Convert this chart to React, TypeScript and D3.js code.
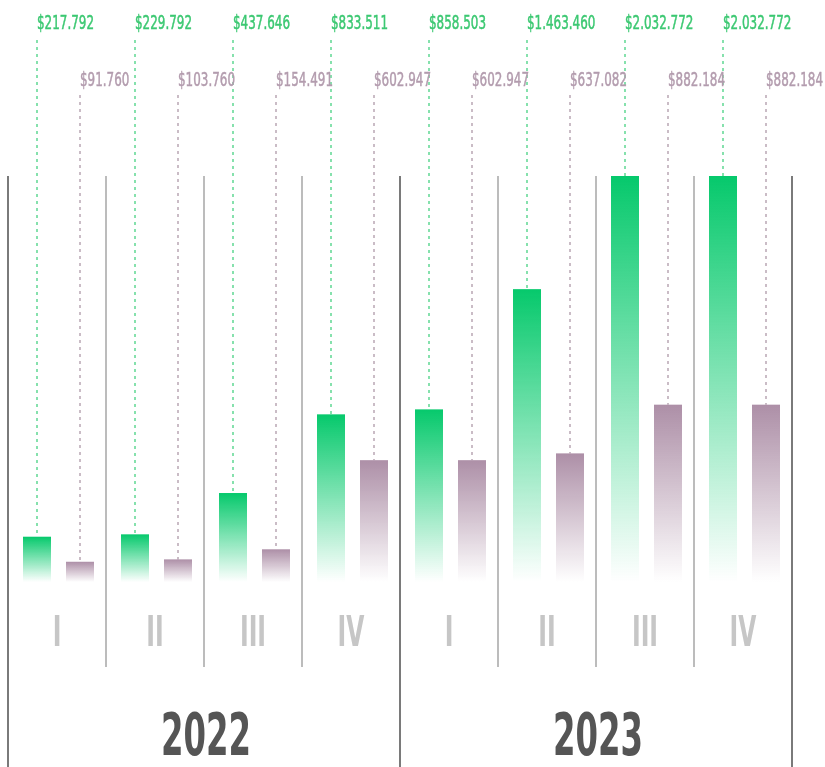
import { useEffect, useRef } from 'react';
import * as d3 from 'd3';

const YEARS = ['2022', '2023'];
const QUARTERS = ['I', 'II', 'III', 'IV'];
// revenue (green) and cost (purple) per quarter, 2022 Q1 .. 2023 Q4
const GREEN = [217792, 229792, 437646, 833511, 858503, 1463460, 2032772, 2032772];
const PURPLE = [91760, 103760, 154491, 602947, 602947, 637082, 882184, 882184];

const W = 825;
const H = 767;
const GREEN_C = '#06c96c';
const PURPLE_C = '#ad8fa7';
const FONT = "'DejaVu Sans Condensed', 'DejaVu Sans', sans-serif";

const fmt = (v: number) => '$' + d3.format(',')(v).replace(/,/g, '.');

export default function App() {
  const ref = useRef<SVGSVGElement>(null);

  useEffect(() => {
    const el = ref.current;
    if (!el) return;
    const svg = d3.select(el);
    svg.selectAll('*').remove();

    const idx = d3.range(GREEN.length);
    const x = d3.scaleBand<number>().domain(idx).range([8, 792]).padding(0);
    const bw = x.bandwidth();
    const y = d3.scaleLinear().domain([0, d3.max(GREEN) as number]).range([580, 176]);
    const barW = 28;
    const gOff = 29;
    const pOff = 72;

    const defs = svg.append('defs');
    const mk = (id: string, c: string) => {
      const g = defs.append('linearGradient').attr('id', id).attr('x1', 0).attr('x2', 0).attr('y1', 0).attr('y2', 1);
      g.append('stop').attr('offset', '0%').attr('stop-color', c).attr('stop-opacity', 1);
      g.append('stop').attr('offset', '100%').attr('stop-color', c).attr('stop-opacity', 0);
    };
    mk('gGrad', GREEN_C);
    mk('pGrad', PURPLE_C);

    // minor dividers between quarters
    idx.filter((i) => i % 4 !== 0).forEach((i) => {
      svg.append('line')
        .attr('x1', x(i)!).attr('x2', x(i)!)
        .attr('y1', 176).attr('y2', 667)
        .attr('stroke', '#bcbcbc').attr('stroke-width', 2);
    });
    // year dividers
    [x(0)!, x(4)!, x(7)! + bw].forEach((px) => {
      svg.append('line')
        .attr('x1', px).attr('x2', px)
        .attr('y1', 176).attr('y2', H)
        .attr('stroke', '#7a7a7a').attr('stroke-width', 2);
    });

    const baseY = y(0) + 2;

    // green bars + dotted leaders + labels
    GREEN.forEach((v, i) => {
      const cx = x(i)! + gOff;
      svg.append('line')
        .attr('x1', cx).attr('x2', cx).attr('y1', 40).attr('y2', y(v))
        .attr('stroke', '#5fd892').attr('stroke-width', 1.5).attr('stroke-dasharray', '3,4');
      svg.append('rect')
        .attr('x', cx - barW / 2).attr('y', y(v))
        .attr('width', barW).attr('height', baseY - y(v))
        .attr('fill', 'url(#gGrad)');
      svg.append('text')
        .attr('transform', `translate(${cx},29) scale(0.7,1)`)
        .attr('font-family', FONT).attr('font-size', 19).attr('fill', '#3cc872')
        .attr('stroke', '#3cc872').attr('stroke-width', 0.5)
        .text(fmt(v));
    });

    PURPLE.forEach((v, i) => {
      const cx = x(i)! + pOff;
      svg.append('line')
        .attr('x1', cx).attr('x2', cx).attr('y1', 95).attr('y2', y(v))
        .attr('stroke', '#b9a6b4').attr('stroke-width', 1.5).attr('stroke-dasharray', '3,4');
      svg.append('rect')
        .attr('x', cx - barW / 2).attr('y', y(v))
        .attr('width', barW).attr('height', baseY - y(v))
        .attr('fill', 'url(#pGrad)');
      svg.append('text')
        .attr('transform', `translate(${cx},86) scale(0.7,1)`)
        .attr('font-family', FONT).attr('font-size', 19).attr('fill', '#b39cae')
        .attr('stroke', '#b39cae').attr('stroke-width', 0.5)
        .text(fmt(v));
    });

    // quarter numerals
    idx.forEach((i) => {
      svg.append('text')
        .attr('transform', `translate(${x(i)! + bw / 2},646) scale(0.62,1)`)
        .attr('text-anchor', 'middle')
        .attr('font-family', FONT).attr('font-weight', 'bold')
        .attr('font-size', 42).attr('fill', '#c6c6c6')
        .text(QUARTERS[i % 4]);
    });

    // year labels
    YEARS.forEach((yr, k) => {
      const cx = (x(k * 4)! + x(k * 4 + 3)! + bw) / 2;
      svg.append('text')
        .attr('transform', `translate(${cx + 2},755) scale(0.62,1)`)
        .attr('text-anchor', 'middle')
        .attr('font-family', FONT).attr('font-weight', 'bold')
        .attr('font-size', 58).attr('fill', '#555555')
        .text(yr);
    });
  }, []);

  return (
    <div style={{ position: 'fixed', left: 0, top: 0, width: W, height: H, background: '#fff' }}>
      <svg ref={ref} width={W} height={H} style={{ display: 'block', willChange: 'transform' }} />
    </div>
  );
}
